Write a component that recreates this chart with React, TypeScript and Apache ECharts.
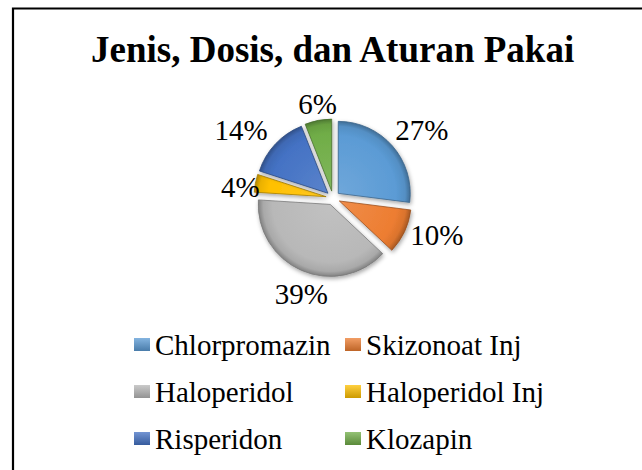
import React, { useEffect, useRef } from "react";
import * as echarts from "echarts";

const titleText = "Jenis, Dosis, dan Aturan Pakai";
const categories = ["Chlorpromazin", "Skizonoat Inj", "Haloperidol", "Haloperidol Inj", "Risperidon", "Klozapin"];
const values = [27, 10, 39, 4, 14, 6];
const baseColors = ["#5B9BD5", "#ED7D31", "#B8B8B8", "#FFC000", "#4472C4", "#70AD47"];
const labelShift = [[-11, -8], [-10, -2], [36, 12], [21, 6], [6, -6], [26, -5]];

const CX = 333;
const CY = 198;
const R = 72;
const FONT = "Liberation Serif";

function shade(hex: string, f: number): string {
  const n = parseInt(hex.slice(1), 16);
  let r = (n >> 16) & 255, g = (n >> 8) & 255, b = n & 255;
  if (f >= 0) {
    r = Math.round(r + (255 - r) * f);
    g = Math.round(g + (255 - g) * f);
    b = Math.round(b + (255 - b) * f);
  } else {
    r = Math.round(r * (1 + f));
    g = Math.round(g * (1 + f));
    b = Math.round(b * (1 + f));
  }
  return `rgb(${r},${g},${b})`;
}

export default function App() {
  const ref = useRef<HTMLDivElement>(null);
  useEffect(() => {
    if (!ref.current) return;
    const chart = echarts.init(ref.current, undefined, { renderer: "svg" });
    const data = categories.map((name, i) => ({
      name,
      value: values[i],
      selected: true,
      itemStyle: {
        color: new echarts.graphic.RadialGradient(CX, CY, R, [
          { offset: 0, color: shade(baseColors[i], 0.12) },
          { offset: 0.8, color: baseColors[i] },
          { offset: 0.93, color: shade(baseColors[i], -0.08) },
          { offset: 1, color: shade(baseColors[i], -0.3) },
        ], true),
        borderColor: shade(baseColors[i], -0.35),
        borderWidth: 0.8,
        shadowBlur: 4,
        shadowColor: "rgba(0,0,0,0.35)",
        shadowOffsetX: 1,
        shadowOffsetY: 2,
      },
    }));
    chart.setOption({
      animation: false,
      backgroundColor: "#ffffff",
      textStyle: { fontFamily: FONT },
      title: {
        text: titleText,
        left: 91,
        top: 31,
        padding: 0,
        textStyle: { fontFamily: FONT, fontSize: 37, fontWeight: "bold", color: "#000" },
      },
      legend: {
        left: 134,
        top: 326,
        width: 430,
        padding: 0,
        orient: "horizontal",
        itemWidth: 16,
        itemHeight: 13,
        itemGap: 10,
        icon: "rect",
        selectedMode: false,
        data: categories.map((name, i) => ({
          name,
          itemStyle: {
            color: new echarts.graphic.LinearGradient(0, 0, 0, 1, [
              { offset: 0, color: shade(baseColors[i], 0.25) },
              { offset: 1, color: shade(baseColors[i], -0.2) },
            ]),
            borderWidth: 0,
          },
        })),
        textStyle: { fontFamily: FONT, fontSize: 29, color: "#000", width: 180, lineHeight: 37 },
      },
      graphic: [
        {
          type: "rect",
          shape: { x: 13, y: 8.5, width: 700, height: 600 },
          style: { fill: "none", stroke: "#000", lineWidth: 2.2 },
          silent: true,
          z: 100,
        },
      ],
      series: [
        {
          type: "pie",
          center: [CX, CY],
          radius: R,
          startAngle: 90,
          clockwise: true,
          selectedMode: "multiple",
          selectedOffset: 7,
          avoidLabelOverlap: false,
          emphasis: { disabled: true },
          label: {
            show: true,
            position: "outside",
            formatter: (p: any) => `${p.value}%`,
            fontFamily: FONT,
            fontSize: 29,
            color: "#000",
          },
          labelLine: { show: false, length: 12, length2: 0 },
          labelLayout: (p: any) => ({ dx: labelShift[p.dataIndex][0], dy: labelShift[p.dataIndex][1] }),
          data,
        },
      ],
    });
    return () => chart.dispose();
  }, []);
  return (
    <div
      ref={ref}
      style={{ position: "fixed", left: 0, top: 0, width: 642, height: 470 }}
    />
  );
}
